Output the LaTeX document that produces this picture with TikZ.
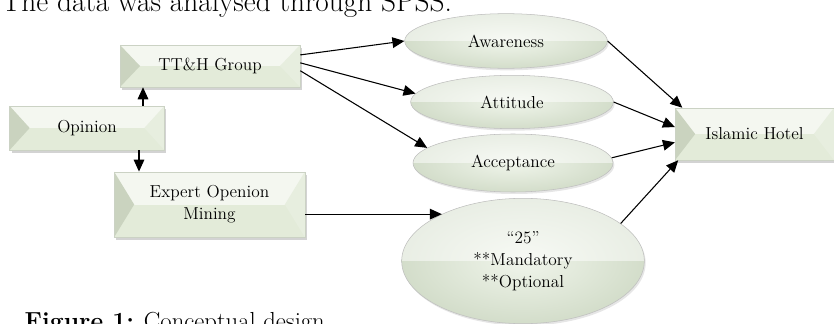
\documentclass[tikz,border=0pt]{standalone}
\usepackage{xcolor}
\usetikzlibrary{shapes.geometric,positioning,calc,arrows.meta,shadows}

\definecolor{faceup}{HTML}{F4F7F0}
\definecolor{facelow}{HTML}{E3EBD9}
\definecolor{bevleft}{HTML}{CAD3BF}
\definecolor{bevright}{HTML}{E7EEDF}
\definecolor{rimline}{HTML}{CBD2C4}
\definecolor{bubblein}{HTML}{F0F5EB}
\definecolor{bubbleout}{HTML}{D3DDCA}

\begin{document}
\begin{tikzpicture}[x=0.75pt,y=-0.75pt]

\tikzset{
     bevelbox/.style={
     	rectangle,
     	draw=rimline,
     	line width=0.4pt,
     	fill=facelow,
     	inner sep=0pt,
     	align=center,
     	font=\fontsize{13}{16.5}\selectfont,
     	drop shadow={shadow xshift=1.5pt,shadow yshift=-2pt,opacity=0.35},
     	path picture={
     		\fill[faceup] (path picture bounding box.north west) rectangle (path picture bounding box.east);
     		\fill[bevleft] (path picture bounding box.north west) -- ([xshift=15pt]path picture bounding box.west)
     			-- (path picture bounding box.south west) -- cycle;
     		\fill[bevright] (path picture bounding box.north east) -- ([xshift=-15pt]path picture bounding box.east)
     			-- (path picture bounding box.south east) -- cycle;
     	}
     }
}

\tikzset{
	bubble/.style={
		ellipse,
		draw=gray!50,
		line width=0.4pt,
		inner sep=0pt,
		align=center,
		font=\fontsize{13}{16.5}\selectfont,
		inner color=bubblein,
		outer color=bubbleout,
		drop shadow={shadow xshift=1pt,shadow yshift=-1.5pt,opacity=0.2},
		path picture={
			\fill[white,opacity=0.5] (path picture bounding box.north west) rectangle (path picture bounding box.east);
		}
	}
}

\tikzset{
	link/.style={
		-{Triangle[length=9pt,width=8pt]},
		line width=0.8pt
	}
}

\useasboundingbox (0,0) rectangle (834,324);
\clip (0,0) rectangle (834,324);

% texts round the figure
\node[anchor=base west,font=\fontsize{22}{26}\selectfont] (textabove) at (-3,12) {The data was analysed through SPSS.};
\node[anchor=base west,font=\fontsize{18.5}{22}\selectfont] (figcaption) at (20,329) {\textbf{Figure 1:} Conceptual design};

% opinion side
\node[bevelbox,minimum width=116pt,minimum height=33pt] (opinion) at (87,128) {Opinion};
\node[bevelbox,minimum width=135pt,minimum height=31.5pt] (tthgroup) at (210,66) {TT\&H Group};
\node[bevelbox,minimum width=143pt,minimum height=49pt] (expert) at (209.5,204.5) {Expert Openion\\Mining};

% the three measures
\node[bubble,minimum width=152pt,minimum height=41pt] (awareness) at (506,41) {Awareness};
\node[bubble,minimum width=152pt,minimum height=40pt] (attitude) at (512,102) {Attitude};
\node[bubble,minimum width=150pt,minimum height=43.5pt] (acceptance) at (513,163) {Acceptance};

% criteria
\node[bubble,minimum width=182pt,minimum height=94pt] (criteria) at (523,261) {``25''\\**Mandatory\\**Optional};

% hotel
\node[bevelbox,minimum width=119pt,minimum height=39pt] (hotel) at (754.5,134) {Islamic Hotel};

% links
\draw[link] ([xshift=42pt]opinion.north) -- ([xshift=-50.25pt]tthgroup.south);
\draw[link] ([xshift=39pt]opinion.south) -- ([xshift=-52.875pt]expert.north);

\draw[link] (tthgroup.7) -- (awareness.west);
\draw[link] (tthgroup.2) -- (attitude.175);
\draw[link] (tthgroup.-3) -- (acceptance.170);
\draw[link] (expert.east |- criteria.150) -- (criteria.150);

\draw[link] (awareness.east) -- (hotel.160);
\draw[link] (attitude.east) -- (hotel.175);
\draw[link] (acceptance.3) -- (hotel.186);
\draw[link] (criteria.21) -- (hotel.199);

\end{tikzpicture}
\end{document}
